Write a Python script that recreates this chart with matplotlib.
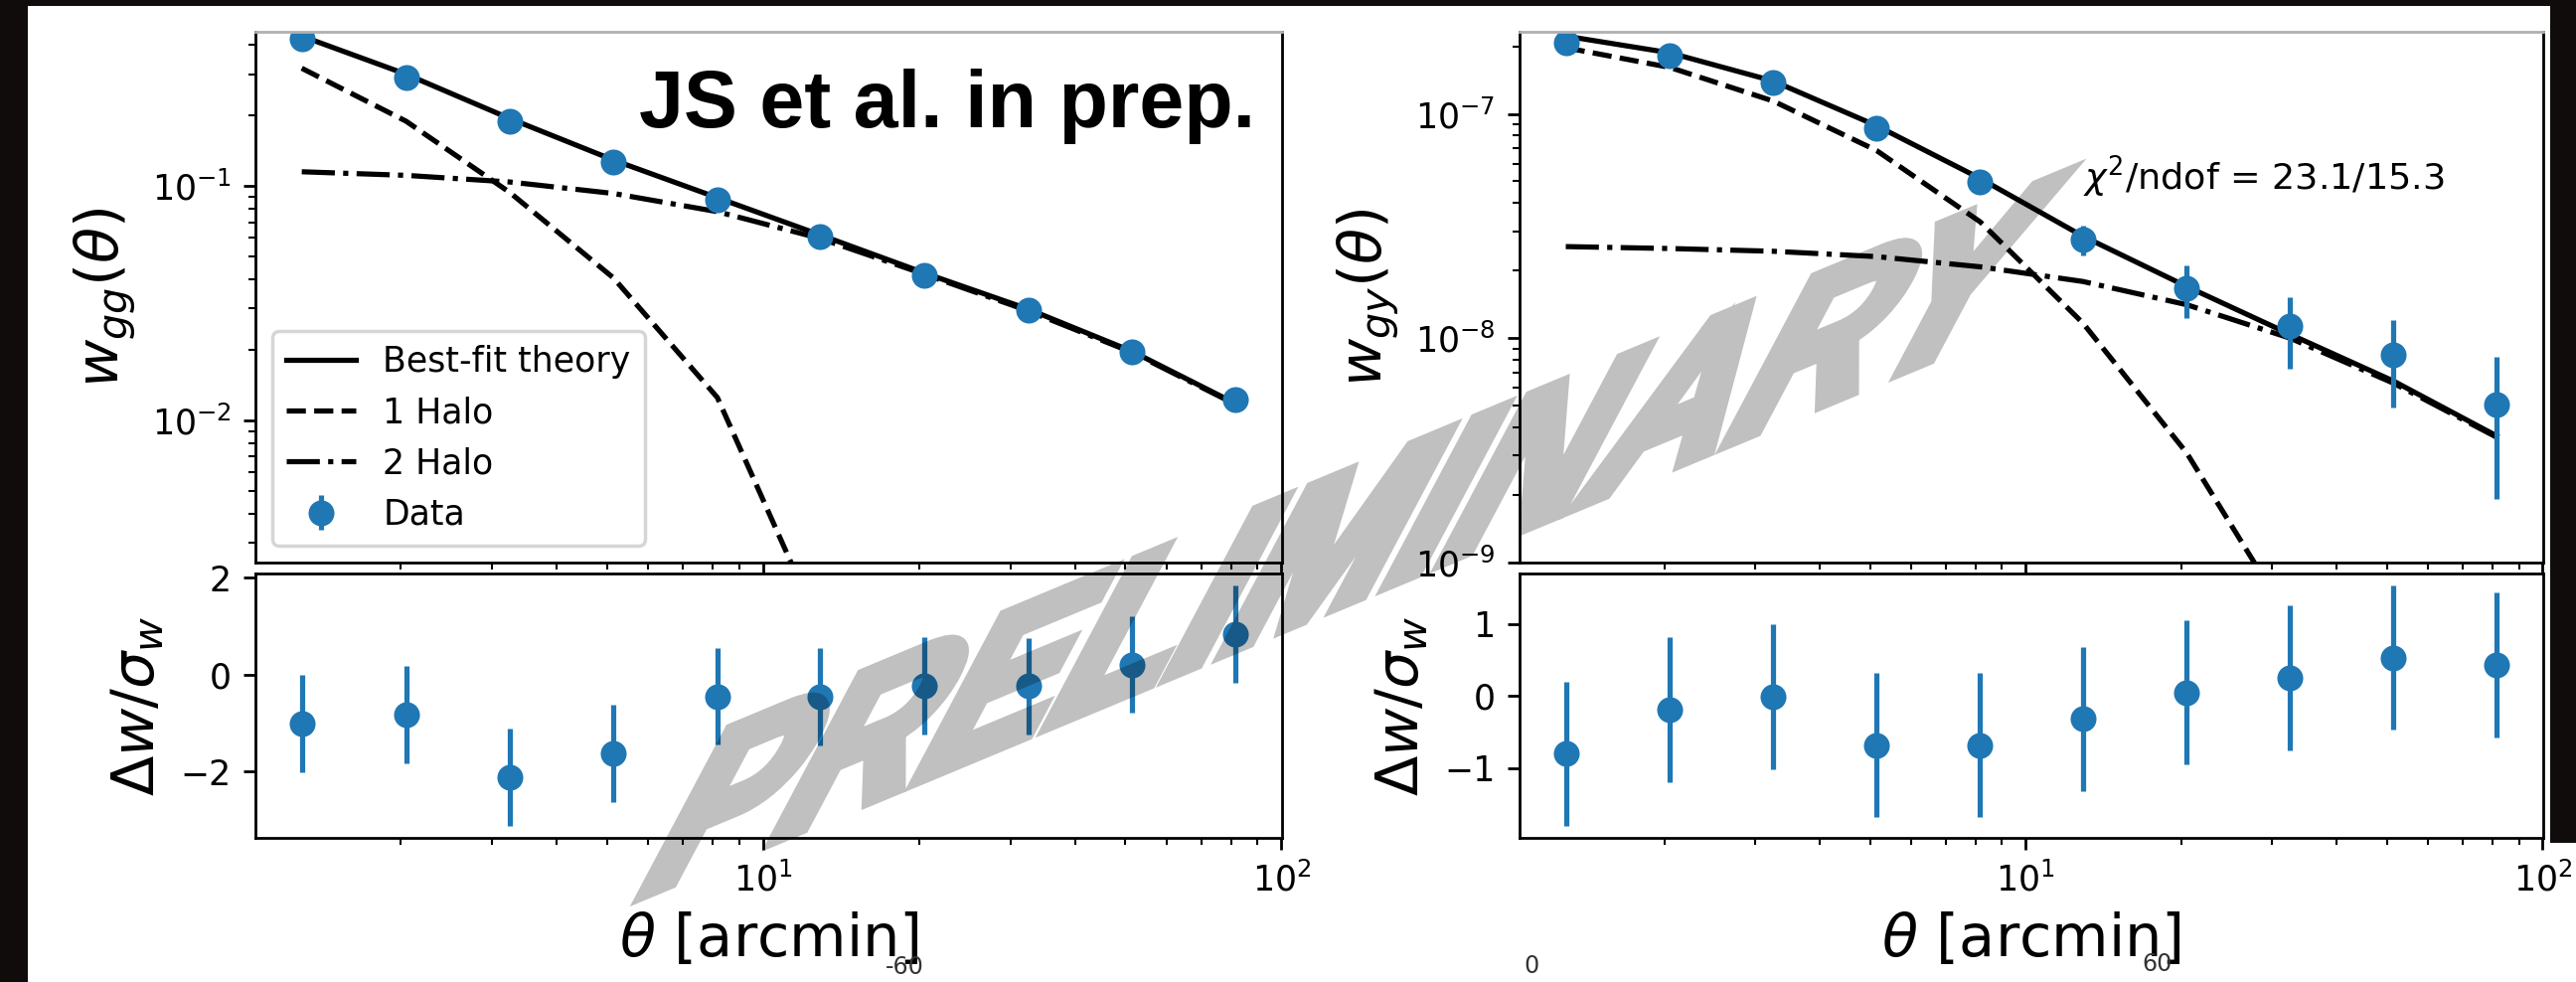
import numpy as np
import matplotlib
matplotlib.use("Agg")
import matplotlib.pyplot as plt
from matplotlib.patches import Rectangle, PathPatch
from matplotlib.textpath import TextPath
from matplotlib.font_manager import FontProperties
from matplotlib.transforms import Affine2D

# angular bins [arcmin]
theta = [1.29, 2.05, 3.25, 5.15, 8.17, 12.9, 20.5, 32.5, 51.5, 81.5]

# galaxy-galaxy
wgg_data = [0.426, 0.291, 0.188, 0.126, 0.0877, 0.0608, 0.0417, 0.0294, 0.0195, 0.0123]
wgg_err = [0.010, 0.006, 0.003, 0.002, 0.0015, 0.0010, 0.0008, 0.0006, 0.0005, 0.0004]
wgg_total = [0.436, 0.300, 0.194, 0.129, 0.0891, 0.0618, 0.0425, 0.0298, 0.0197, 0.0118]
wgg_1h = [0.318, 0.189, 0.0938, 0.0405, 0.0125, 0.0013, 6e-5, 1e-6, 1e-8, 1e-10]
wgg_2h = [0.115, 0.111, 0.104, 0.0929, 0.0777, 0.0597, 0.0420, 0.0293, 0.0195, 0.0117]
wgg_res = [-1.01, -0.82, -2.12, -1.62, -0.45, -0.46, -0.23, -0.24, 0.21, 0.84]

# galaxy-tSZ
wgy_data = [2.07e-7, 1.81e-7, 1.38e-7, 8.62e-8, 4.97e-8, 2.76e-8, 1.67e-8, 1.13e-8, 8.45e-9, 5.07e-9]
wgy_err = [1.8e-8, 1.5e-8, 1.2e-8, 8e-9, 5e-9, 4.3e-9, 4.4e-9, 3.97e-9, 3.55e-9, 3.15e-9]
wgy_total = [2.22e-7, 1.87e-7, 1.40e-7, 8.85e-8, 5.15e-8, 2.85e-8, 1.70e-8, 1.04e-8, 6.44e-9, 3.67e-9]
wgy_1h = [1.97e-7, 1.61e-7, 1.14e-7, 6.86e-8, 3.3e-8, 1.17e-8, 3.08e-9, 5.5e-10, 8e-11, 1e-11]
wgy_2h = [2.56e-8, 2.51e-8, 2.44e-8, 2.31e-8, 2.08e-8, 1.79e-8, 1.41e-8, 1.00e-8, 6.3e-9, 3.62e-9]
wgy_res = [-0.80, -0.19, -0.01, -0.68, -0.68, -0.32, 0.05, 0.25, 0.53, 0.43]

res_err = [1.0] * 10

W, H, DPI = 2592, 988, 250
plt.rcParams["font.size"] = 10


def box(x0, y0, x1, y1):
    # pixel box, origin top-left -> figure fraction
    return [x0 / W, 1 - y1 / H, (x1 - x0) / W, (y1 - y0) / H]


fig = plt.figure(figsize=(W / DPI, H / DPI), dpi=DPI, facecolor="#100c0c")
for rect in [(28, 6, 2566, H), (2566, 848, W, H)]:
    x0, y0, x1, y1 = rect
    fig.patches.append(Rectangle((x0 / W, 1 - y1 / H), (x1 - x0) / W, (y1 - y0) / H,
                                 transform=fig.transFigure, facecolor="white",
                                 edgecolor="none", zorder=-10))

ax_gg = fig.add_axes(box(257, 32, 1290, 566))
ax_gg_res = fig.add_axes(box(257, 577, 1290, 843), sharex=ax_gg)
ax_gy = fig.add_axes(box(1529, 32, 2559, 566))
ax_gy_res = fig.add_axes(box(1529, 577, 2559, 843), sharex=ax_gy)


def top_panel(ax, total, one_h, two_h, data, err, ylabel, ylim):
    ax.plot(theta, total, "k-", label="Best-fit theory")
    ax.plot(theta, one_h, "k--", label="1 Halo")
    ax.plot(theta, two_h, "k-.", label="2 Halo")
    ax.errorbar(theta, data, yerr=err, fmt="o", color="C0", markersize=6.5, label="Data")
    ax.set_xscale("log")
    ax.set_yscale("log")
    ax.set_xlim(1.05, 100.3)
    ax.set_ylim(*ylim)
    ax.set_ylabel(ylabel, fontsize=17)
    ax.tick_params(labelbottom=False)
    ax.spines["top"].set_color("#b0b0b0")


def res_panel(ax, res, yticks):
    ax.errorbar(theta, res, yerr=res_err, fmt="o", color="C0", markersize=6.5)
    ax.set_yticks(yticks)
    ax.set_ylabel(r"$\Delta w/\sigma_w$", fontsize=17)
    ax.set_xlabel(r"$\theta$ [arcmin]", fontsize=17)


top_panel(ax_gg, wgg_total, wgg_1h, wgg_2h, wgg_data, wgg_err,
          r"$w_{gg}(\theta)$", (2.47e-3, 0.455))
ax_gg.legend(loc="lower left")
res_panel(ax_gg_res, wgg_res, [-2, 0, 2])

top_panel(ax_gy, wgy_total, wgy_1h, wgy_2h, wgy_data, wgy_err,
          r"$w_{gy}(\theta)$", (1e-9, 2.32e-7))
ax_gy.text(0.5505, 0.728, r"$\chi^2$/ndof = 23.1/15.3", transform=ax_gy.transAxes,
           va="center", ha="left", fontsize=10.5)
res_panel(ax_gy_res, wgy_res, [-1, 0, 1])

# slide overlays
fig.text(643 / W, 1 - 128 / H, "JS et al. in prep.", fontsize=23.3,
         family="Liberation Sans", weight="bold", va="baseline", ha="left")
for x, y, s in [(910, 973, "-60"), (1541, 972, "0"), (2171, 970, "60")]:
    fig.text(x / W, 1 - y / H, s, fontsize=6.9, color="#333333", ha="center", va="center")


# PRELIMINARY watermark: slanted heavy text in pixel space, faded as one layer
def fade(img, dpi):
    out = img.copy()
    out[..., 3] *= 0.25
    return out, 0, 0


wm_path = TextPath((0, 0), "PRELIMINARY", size=100,
                   prop=FontProperties(family="Liberation Sans", weight="bold"))
ext = wm_path.get_extents()
a_base, a_up = np.radians(22.6), np.radians(62)
sx, sy = 1455 / ext.width, 188 / ext.height
wm_tr = Affine2D().translate(-ext.x0, 0) + Affine2D(np.array([
    [sx * np.cos(a_base), sy * np.cos(a_up), 647],
    [sx * np.sin(a_base), sy * np.sin(a_up), H - 900],
    [0, 0, 1]]))
wm = PathPatch(wm_path, transform=wm_tr, facecolor="black", edgecolor="black",
               linewidth=3.5, joinstyle="miter", zorder=20)
wm.set_agg_filter(fade)
fig.add_artist(wm)

fig.savefig("out.png", dpi=DPI, facecolor=fig.get_facecolor())
